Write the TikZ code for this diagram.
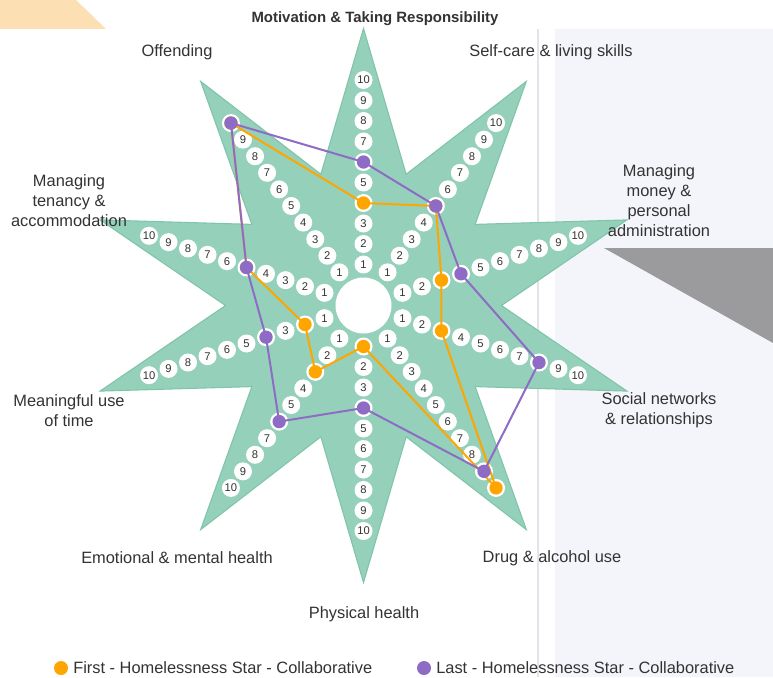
\documentclass[tikz,border=0pt]{standalone}
\usepackage{fontspec}
\setmainfont{Liberation Sans}
\definecolor{stargreen}{HTML}{95D1BA}
\definecolor{staredge}{HTML}{80C4AA}
\definecolor{firstorange}{HTML}{FFA500}
\definecolor{lastpurple}{HTML}{8E6CC6}
\definecolor{panelgrey}{HTML}{F4F5FA}
\definecolor{rulegrey}{HTML}{E2E4EB}
\definecolor{wedgegrey}{HTML}{9B9B9D}
\definecolor{peach}{HTML}{FDDFB4}
\definecolor{labelgrey}{HTML}{333333}
\tikzset{
	numdot/.style={circle,fill=white,inner sep=0pt,minimum size=13.5pt,font=\fontsize{8.4}{8.4}\selectfont,text=labelgrey},
	firstdot/.style={circle,fill=firstorange,inner sep=0pt,minimum size=10pt},
	lastdot/.style={circle,fill=lastpurple,inner sep=0pt,minimum size=10pt},
	axislabel/.style={font=\fontsize{12.3}{15}\selectfont,text=labelgrey,align=center},
	scoreline/.style={line width=1.5pt,line join=round},
}
\begin{document}
\begin{tikzpicture}[x=0.75pt,y=-0.75pt]
	\pgfmathsetmacro{\cx}{363.5}
	\pgfmathsetmacro{\cy}{305.5}
	\useasboundingbox (0,0) rectangle (773,677);
	\fill[white] (0,0) rectangle (773,677);
	\fill[peach] (0,0) -- (76,0) -- (106,29) -- (0,29) -- cycle;
	\fill[panelgrey] (555,29) rectangle (773,677);
	\draw[rulegrey,line width=1pt] (538,29) -- (538,677);
	\fill[wedgegrey] (604,248) -- (773,248) -- (773,343) -- cycle;
	% the star
	\filldraw[fill=stargreen,draw=staredge,line width=0.8pt] (\cx,\cy-277)
		\foreach \i in {0,...,9} { -- ({\cx+138*sin(36*\i+18)},{\cy-138*cos(36*\i+18)})
			-- ({\cx+277*sin(36*\i+36)},{\cy-277*cos(36*\i+36)}) } -- cycle;
	\node[circle,fill=white,inner sep=0pt,minimum size=42pt] (hub) at (\cx,\cy) {};
	% scale dots, first / last scores per axis
	\foreach \f/\l [count=\i from 0] in {4/6,5/5,3/4,3/8,10/9,1/4,3/6,2/4,5/5,10/10} {
		\foreach \k in {1,...,10} {
			\pgfmathsetmacro{\dist}{41+20.5*(\k-1)}
			\ifnum\k=\f \def\lab{}\else\ifnum\k=\l \def\lab{}\else\def\lab{\k}\fi\fi
			\node[numdot] (n\i-\k) at ({\cx+\dist*sin(36*\i)},{\cy-\dist*cos(36*\i)}) {\lab};
		}
		\pgfmathsetmacro{\df}{41+20.5*(\f-1)}
		\pgfmathsetmacro{\dl}{41+20.5*(\l-1)}
		\coordinate (first\i) at ({\cx+\df*sin(36*\i)},{\cy-\df*cos(36*\i)});
		\coordinate (last\i) at ({\cx+\dl*sin(36*\i)},{\cy-\dl*cos(36*\i)});
	}
	\draw[scoreline,firstorange] (first0) -- (first1) -- (first2) -- (first3) -- (first4)
		-- (first5) -- (first6) -- (first7) -- (first8) -- (first9) -- cycle;
	\foreach \i in {0,...,9} \node[firstdot] (fdot\i) at (first\i) {};
	\draw[scoreline,lastpurple] (last0) -- (last1) -- (last2) -- (last3) -- (last4)
		-- (last5) -- (last6) -- (last7) -- (last8) -- (last9) -- cycle;
	\foreach \i in {0,...,9} \node[lastdot] (ldot\i) at (last\i) {};
	% axis labels
	\node[font=\bfseries\fontsize{11.2}{13}\selectfont,text=labelgrey] (motivation) at (375,19) {Motivation \& Taking Responsibility};
	\node[axislabel] (selfcare) at (551,52) {Self-care \& living skills};
	\node[axislabel] (money) at (659,200.5) {Managing\\money \&\\personal\\administration};
	\node[axislabel] (social) at (659,410.5) {Social networks\\\& relationships};
	\node[axislabel] (drug) at (552,558) {Drug \& alcohol use};
	\node[axislabel] (physical) at (364,614) {Physical health};
	\node[axislabel] (emotional) at (177,558) {Emotional \& mental health};
	\node[axislabel] (meaningful) at (69,411) {Meaningful use\\of time};
	\node[axislabel] (tenancy) at (69,200.5) {Managing\\tenancy \&\\accommodation};
	\node[axislabel] (offending) at (177,52) {Offending};
	% legend
	\node[firstdot,minimum size=10.5pt] (keyfirst) at (61,668) {};
	\node[axislabel,anchor=west,inner sep=0pt] (keyfirsttext) at (73,668) {First - Homelessness Star - Collaborative};
	\node[lastdot,minimum size=10.5pt] (keylast) at (424,668) {};
	\node[axislabel,anchor=west,inner sep=0pt] (keylasttext) at (436,668) {Last - Homelessness Star - Collaborative};
\end{tikzpicture}
\end{document}
